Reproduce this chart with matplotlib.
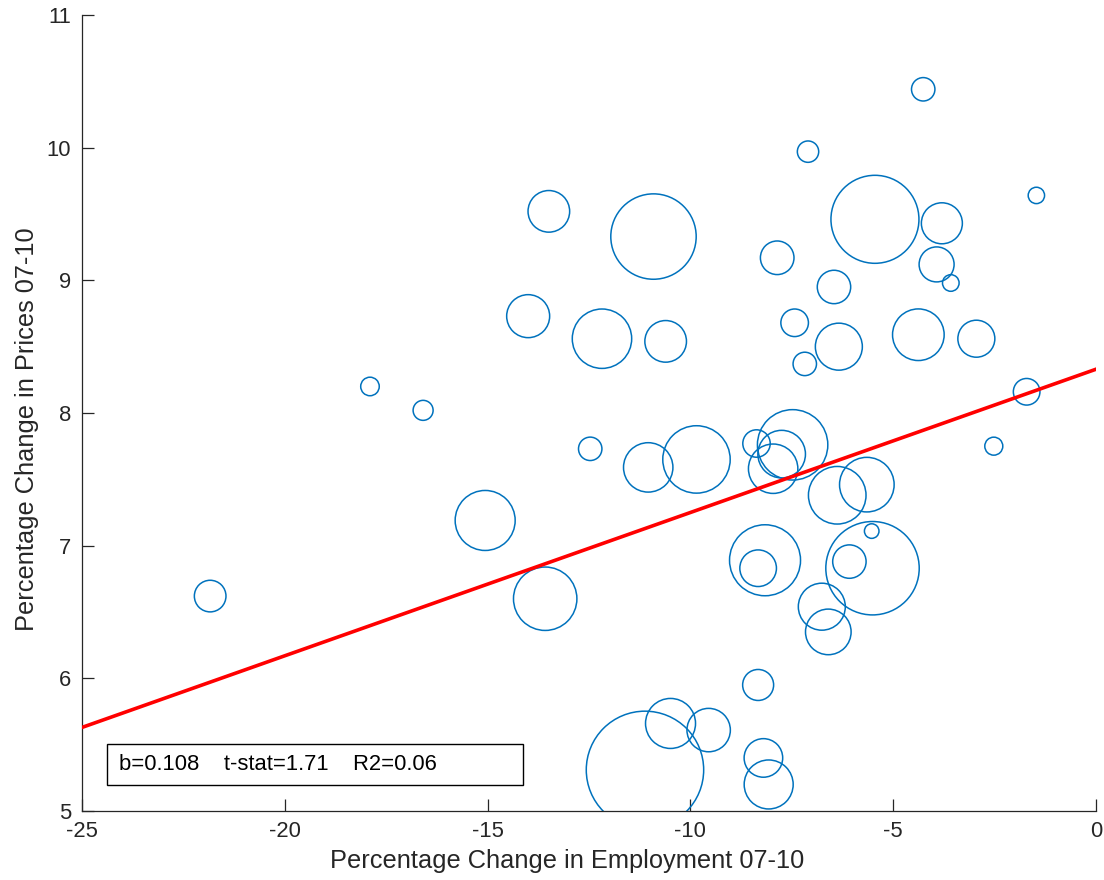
import numpy as np
import matplotlib
matplotlib.use("Agg")
import matplotlib.pyplot as plt
from matplotlib.patches import Rectangle

# ---- data ----
emp_change = [-21.84, -17.90, -16.59, -15.06, -13.58, -14.00, -13.49, -12.47, -12.18, -10.91,
              -10.61, -11.04, -9.85, -11.12, -10.49, -9.55, -8.33, -8.20, -8.07, -8.37,
              -7.48, -7.75, -7.96, -6.38, -5.65, -5.53, -5.51, -6.08, -8.16, -8.33,
              -6.76, -6.60, -4.26, -7.10, -5.45, -1.47, -3.80, -3.93, -3.58, -7.86,
              -6.46, -7.43, -7.18, -6.34, -4.38, -2.95, -1.71, -2.52]
price_change = [6.62, 8.20, 8.02, 7.19, 6.60, 8.73, 9.52, 7.73, 8.56, 9.33,
                8.54, 7.59, 7.65, 5.31, 5.66, 5.61, 5.95, 5.40, 5.20, 7.77,
                7.76, 7.69, 7.58, 7.38, 7.46, 7.11, 6.83, 6.88, 6.89, 6.83,
                6.54, 6.35, 10.44, 9.97, 9.46, 9.64, 9.43, 9.12, 8.98, 9.17,
                8.95, 8.68, 8.37, 8.50, 8.59, 8.56, 8.16, 7.75]
weight = [2.50, 0.86, 1.00, 9.00, 10.05, 4.62, 4.33, 1.37, 8.82, 18.23,
          4.33, 6.10, 11.36, 34.46, 6.25, 4.71, 2.40, 3.72, 6.00, 1.88,
          12.39, 5.66, 6.10, 8.29, 7.45, 0.53, 21.81, 2.79, 12.60, 3.35,
          5.52, 5.20, 1.37, 1.14, 19.36, 0.67, 4.20, 3.06, 0.69, 2.82,
          2.79, 1.90, 1.37, 5.52, 6.66, 3.42, 1.77, 0.81]
fit_slope = 0.108
fit_intercept = 8.33
stats_text = "b=0.108    t-stat=1.71    R2=0.06"
x_ticks = [-25, -20, -15, -10, -5, 0]
y_ticks = [5, 6, 7, 8, 9, 10, 11]

plt.rcParams['font.family'] = ['Liberation Sans', 'DejaVu Sans']

dpi = 100
fig = plt.figure(figsize=(11.04, 8.8), dpi=dpi)
ax = fig.add_axes([82/1104, 69/880, 1014/1104, 796/880])

sizes = [207.36 * w for w in weight]
ax.scatter(emp_change, price_change, s=sizes, facecolors='none',
           edgecolors='#0072BD', linewidths=1.1, zorder=2)

xs = np.array([x_ticks[0], x_ticks[-1]], dtype=float)
ax.plot(xs, fit_intercept + fit_slope * xs, color='#FF0000', lw=2.6, zorder=3)

ax.set_xlim(x_ticks[0], x_ticks[-1])
ax.set_ylim(y_ticks[0], y_ticks[-1])
ax.set_xticks(x_ticks)
ax.set_yticks(y_ticks)
ax.set_xticklabels([str(t) for t in x_ticks])
ax.set_yticklabels([str(t) for t in y_ticks])

for s in ['top', 'right']:
    ax.spines[s].set_visible(False)
for s in ['left', 'bottom']:
    ax.spines[s].set_color('#262626')
    ax.spines[s].set_linewidth(0.9)
ax.tick_params(direction='in', length=8.5, width=0.9, colors='#262626',
               labelsize=15.8)
ax.tick_params(axis='x', pad=7)
ax.tick_params(axis='y', pad=8)

ax.set_xlabel('Percentage Change in Employment 07-10', fontsize=18.3, color='#262626', labelpad=5)
ax.set_ylabel('Percentage Change in Prices 07-10', fontsize=18.3, color='#262626', labelpad=5.5)
ax.xaxis.label.set_x(0.478)
ax.yaxis.label.set_y(0.48)

rect = Rectangle((-24.38, 5.195), 10.25, 0.311, fill=False, edgecolor='black',
                 linewidth=1.0, zorder=4)
ax.add_patch(rect)
ax.text(-24.1, 5.35, stats_text, fontsize=15.8, va='center', ha='left', color='black', zorder=5)

fig.savefig('out.png', dpi=dpi)
